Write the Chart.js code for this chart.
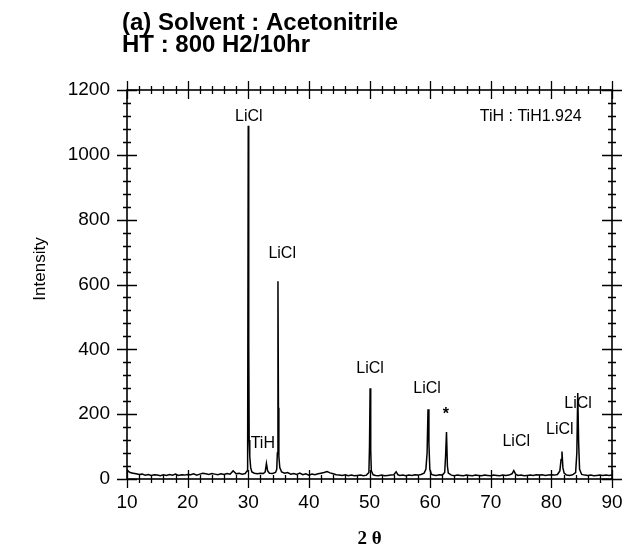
<!DOCTYPE html>
<html>
<head>
<meta charset="utf-8">
<script src="https://cdn.jsdelivr.net/npm/chart.js@4/dist/chart.umd.min.js"></script>
<style>
html,body{margin:0;padding:0;background:#fff;}
#wrap{width:626px;height:552px;position:relative;}
</style>
</head>
<body>
<div id="wrap"><canvas id="c" width="626" height="552"></canvas></div>
<script>
// ---- data ----
const titleLines = ["(a) Solvent : Acetonitrile", "HT : 800 H2/10hr"];
const xTitle = "2 θ";
const yTitle = "Intensity";
const xTickValues = [10, 20, 30, 40, 50, 60, 70, 80, 90];
const yTickValues = [0, 200, 400, 600, 800, 1000, 1200];

const twoTheta = [10.0,10.2,10.5,11.0,11.5,12.0,12.5,13.0,13.5,14.0,14.5,15.0,15.5,16.0,16.5,17.0,17.5,18.0,18.5,19.0,19.5,20.0,20.5,21.0,21.5,22.0,22.5,23.0,23.5,24.0,24.5,25.0,25.5,26.0,26.5,27.0,27.5,27.8,28.0,28.5,29.0,29.5,29.8,29.9,30.0,30.08,30.15,30.25,30.4,30.6,31.0,31.5,32.0,32.5,32.8,33.0,33.2,33.5,34.0,34.5,34.7,34.8,34.9,34.98,35.05,35.2,35.5,36.0,36.5,37.0,37.5,38.0,38.5,39.0,39.5,40.0,40.5,41.0,41.5,42.0,42.5,43.0,43.5,44.0,44.5,45.0,45.5,46.0,46.5,47.0,47.5,48.0,48.5,49.0,49.5,49.9,50.0,50.1,50.2,50.3,50.6,51.0,51.5,52.0,52.5,53.0,53.5,54.0,54.4,54.7,55.0,55.5,56.0,56.5,57.0,57.5,58.0,58.5,59.0,59.3,59.5,59.65,59.8,59.95,60.2,60.5,61.0,61.5,62.0,62.4,62.55,62.7,62.85,63.0,63.5,64.0,64.5,65.0,65.5,66.0,66.5,67.0,67.5,68.0,68.5,69.0,69.5,70.0,70.5,71.0,71.5,72.0,72.5,73.0,73.5,73.8,74.1,74.5,75.0,75.5,76.0,76.5,77.0,77.5,78.0,78.5,79.0,79.5,80.0,80.5,81.0,81.4,81.6,81.75,81.9,82.1,82.5,83.0,83.5,84.0,84.2,84.35,84.5,84.65,85.0,85.5,86.0,86.5,87.0,87.5,88.0,88.5,89.0,89.5,90.0];
const intensity = [30,24,20,18,16,14,15,12,14,11,13,12,10,13,11,14,12,15,11,13,12,14,13,16,12,15,18,16,14,17,15,13,16,14,17,15,25,20,16,18,15,17,25,90,1090,420,120,70,35,22,18,16,18,17,22,48,25,18,17,20,30,80,610,220,70,35,22,18,20,15,17,14,18,13,16,12,15,13,16,18,20,23,19,16,13,12,11,13,10,12,10,11,12,10,12,20,100,280,90,25,13,11,10,12,10,11,12,13,22,13,11,12,10,12,11,13,12,14,18,30,80,215,110,30,15,12,11,13,12,20,70,145,40,18,12,10,12,11,10,12,11,10,12,11,10,12,11,10,12,11,10,12,11,12,16,26,15,11,12,10,11,12,11,13,12,13,11,12,13,12,14,25,60,85,35,18,12,11,13,20,80,265,110,30,14,12,11,12,10,11,12,11,12,11,12];

// peak labels (data coordinates)
const annText = ["LiCl","LiCl","LiCl","LiCl","*","TiH","LiCl","LiCl","LiCl","TiH : TiH1.924"];
const annX =    [30.1, 35.6, 50.1, 59.5, 62.6, 32.4, 74.2, 81.4, 84.4, 76.6];
const annY =    [1117, 694, 342, 278, 200, 110, 114, 151, 234, 1117];

const points = twoTheta.map((x, i) => ({x: x, y: intensity[i]}));

const frameTicks = {
  id: 'frameTicks',
  afterDatasetsDraw(chart) {
    const {ctx, chartArea: a, scales} = chart;
    const xs = scales.x, ys = scales.y;
    ctx.save();
    ctx.strokeStyle = '#000';
    ctx.lineWidth = 1.6;
    ctx.strokeRect(a.left, a.top, a.right - a.left, a.bottom - a.top);
    ctx.lineWidth = 1.3;
    ctx.beginPath();
    for (let v = xs.min; v <= xs.max + 1e-9; v += 2) {
      const px = Math.round(xs.getPixelForValue(v)) + 0.5;
      const major = Math.abs(v % 10) < 1e-6;
      const o = major ? 9 : 4;
      ctx.moveTo(px, a.bottom - o); ctx.lineTo(px, a.bottom + o);
      ctx.moveTo(px, a.top - o); ctx.lineTo(px, a.top + o);
    }
    for (let v = ys.min; v <= ys.max + 1e-9; v += 40) {
      const py = Math.round(ys.getPixelForValue(v)) + 0.5;
      const major = Math.abs(v % 200) < 1e-6;
      const o = major ? 10 : 4;
      ctx.moveTo(a.left - o, py); ctx.lineTo(a.left + o, py);
      ctx.moveTo(a.right - o, py); ctx.lineTo(a.right + o, py);
    }
    ctx.stroke();

    // annotations
    ctx.fillStyle = '#000';
    ctx.textAlign = 'center';
    ctx.textBaseline = 'middle';
    for (let k = 0; k < annText.length; k++) {
      ctx.font = annText[k] === '*' ? 'bold 16px "Liberation Sans"' : '16px "Liberation Sans"';
      ctx.fillText(annText[k], xs.getPixelForValue(annX[k]), ys.getPixelForValue(annY[k]));
    }

    // y axis title
    ctx.save();
    ctx.translate(40, 269);
    ctx.rotate(-Math.PI / 2);
    ctx.font = '17px "Liberation Sans"';
    ctx.fillText(yTitle, 0, 0);
    ctx.restore();

    // title
    ctx.textAlign = 'left';
    ctx.textBaseline = 'alphabetic';
    ctx.font = 'bold 24px "Liberation Sans"';
    ctx.fillText(titleLines[0], a.left - 5, 30);
    ctx.fillText(titleLines[1], a.left - 5, 52);
    ctx.restore();
  }
};

new Chart(document.getElementById('c'), {
  type: 'line',
  data: {
    datasets: [{
      data: points,
      borderColor: '#000',
      borderWidth: 1.5,
      pointRadius: 0,
      tension: 0,
      fill: false
    }]
  },
  options: {
    responsive: false,
    animation: false,
    parsing: false,
    layout: {padding: {left: 0, right: 14, top: 90, bottom: 0}},
    plugins: {legend: {display: false}, tooltip: {enabled: false}, title: {display: false}},
    scales: {
      x: {
        type: 'linear', min: 10, max: 90,
        afterFit(s) { s.height = 73; s.paddingLeft = 0; s.paddingRight = 0; },
        afterBuildTicks(s) { s.ticks = xTickValues.map(v => ({value: v})); },
        grid: {display: false, drawTicks: false},
        border: {display: false},
        ticks: {color: '#000', padding: 12, maxRotation: 0, font: {family: 'Liberation Sans', size: 19},
                callback: v => String(v)},
        title: {display: true, text: xTitle, color: '#000', padding: {bottom: 2},
                font: {family: 'Liberation Serif', size: 19, weight: 'bold'}}
      },
      y: {
        type: 'linear', min: 0, max: 1200,
        afterFit(s) { s.width = 127; s.paddingTop = 0; s.paddingBottom = 0; },
        afterBuildTicks(s) { s.ticks = yTickValues.map(v => ({value: v})); },
        grid: {display: false, drawTicks: false},
        border: {display: false},
        ticks: {color: '#000', padding: 17, font: {family: 'Liberation Sans', size: 19},
                callback: v => String(v)},
        title: {display: false}
      }
    }
  },
  plugins: [frameTicks]
});
</script>
</body>
</html>
